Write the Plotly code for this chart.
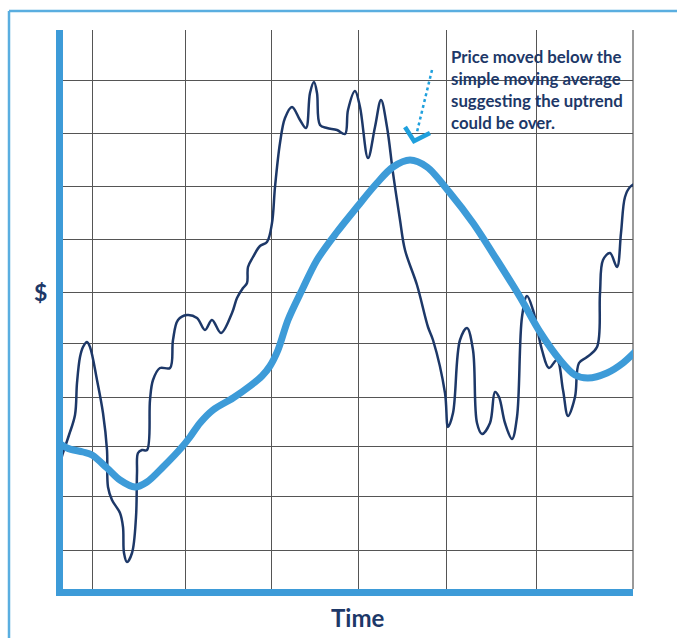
import plotly.graph_objects as go

# Price path (time index, price level) on the chart's own scale
time_price = [-7, 0, 6, 12, 14, 17, 20, 24, 27, 34, 40, 44, 45, 49, 57, 60, 61, 64, 69, 73, 74, 75,
              79, 84, 87, 90, 97, 107, 110, 115, 124, 134, 142, 149, 158, 169, 174, 180, 184, 185,
              190, 197, 204, 209, 212, 217, 222, 229, 237, 243, 247, 251, 254, 257, 264, 274, 282,
              285, 292, 297, 305, 312, 318, 324, 330, 337, 342, 354, 365, 370, 382, 385, 390, 397,
              404, 410, 414, 419, 427, 432, 436, 442, 449, 454, 459, 464, 470, 479, 486, 494, 500,
              505, 512, 516, 524, 534, 537, 540, 547, 554, 558, 562, 567, 576]
price = [112, 136, 154, 174, 206, 232, 242, 247, 242, 209, 176, 139, 102, 89, 76, 62, 36, 27, 36, 72,
         116, 136, 139, 139, 189, 209, 221, 221, 249, 269, 274, 271, 259, 269, 256, 276, 291, 301,
         306, 322, 332, 343, 347, 366, 402, 446, 471, 482, 469, 461, 496, 507, 496, 464, 461, 459,
         455, 479, 498, 482, 431, 462, 489, 462, 416, 369, 339, 304, 262, 249, 196, 162, 176, 249,
         261, 239, 166, 155, 166, 197, 192, 166, 150, 172, 272, 293, 279, 239, 221, 229, 199, 173,
         192, 226, 232, 242, 296, 329, 336, 322, 356, 392, 402, 407]

# Simple moving average of the price
time_sma = [-8, 4, 20, 29, 44, 57, 72, 84, 100, 119, 127, 137, 150, 170, 187, 199, 207, 215, 225,
            239, 254, 274, 294, 314, 330, 347, 364, 387, 410, 434, 457, 477, 497, 512, 525, 544,
            560, 574]
sma = [149, 141, 137, 134, 121, 109, 102, 107, 122, 142, 152, 166, 179, 191, 203, 213, 223, 239,
       269, 299, 329, 357, 382, 406, 422, 429, 422, 396, 366, 329, 292, 257, 229, 214, 211, 216,
       226, 239]

# Grid positions
grid_time = [29, 122, 208, 295, 383, 473]
grid_price = [39, 93, 143, 192, 246, 297, 350, 403, 456, 509]

note_lines = ["Price moved below the", "simple moving average",
              "suggesting the uptrend", "could be over."]

W, H = 677, 638
PLOT_L, PLOT_R, PLOT_T, PLOT_B = 63, 633, 30, 589
X_MAX, Y_MAX = 570, 559

NAVY = "#1d3868"
BLUE = "#3d9bd8"
ARROW = "#1fa0dd"
FRAME = "#5aaee0"
GRID = "#555555"


def paper_x(px):
    return (px - PLOT_L) / (PLOT_R - PLOT_L)


def paper_y(py):
    return (PLOT_B - py) / (PLOT_B - PLOT_T)


fig = go.Figure()

fig.add_trace(go.Scatter(
    x=time_price, y=price, mode="lines",
    line=dict(color=NAVY, width=2.5, shape="spline", smoothing=1.0),
    hoverinfo="skip", showlegend=False,
))
fig.add_trace(go.Scatter(
    x=time_sma, y=sma, mode="lines",
    line=dict(color=BLUE, width=7, shape="spline", smoothing=0.9),
    hoverinfo="skip", showlegend=False,
))

shapes = [
    # right edge of the grid
    dict(type="line", xref="paper", yref="paper", x0=1, x1=1, y0=0, y1=1,
         line=dict(color=GRID, width=1.2), layer="below"),
    # outer frame (top and left)
    dict(type="line", xref="paper", yref="paper",
         x0=paper_x(9), x1=paper_x(W + 5), y0=paper_y(11), y1=paper_y(11),
         line=dict(color=FRAME, width=2.5)),
    dict(type="line", xref="paper", yref="paper",
         x0=paper_x(9), x1=paper_x(9), y0=paper_y(11), y1=paper_y(H + 5),
         line=dict(color=FRAME, width=2.5)),
    # dotted pointer towards the crossover
    dict(type="line", xref="x", yref="y", x0=369, y0=519, x1=354, y1=457,
         line=dict(color=ARROW, width=2.5, dash="dot")),
    # check-mark style arrowhead
    dict(type="path", xref="x", yref="y",
         path="M 342 462 L 351 448 L 367 456",
         line=dict(color=ARROW, width=4.5)),
]

annotations = [
    dict(text="<br>".join(note_lines), xref="paper", yref="paper",
         x=paper_x(449), y=paper_y(44), xanchor="left", yanchor="top",
         align="left", showarrow=False,
         font=dict(family="Lato", size=16.8, color=NAVY, weight="bold")),
    dict(text="$", xref="paper", yref="paper", x=paper_x(40), y=paper_y(292),
         xanchor="center", yanchor="middle", showarrow=False,
         font=dict(family="Lato", size=23, color=NAVY, weight="bold")),
    dict(text="Time", xref="paper", yref="paper", x=paper_x(357), y=paper_y(617),
         xanchor="center", yanchor="middle", showarrow=False,
         font=dict(family="Lato", size=24, color=NAVY, weight="bold")),
]

fig.update_layout(
    width=W, height=H,
    margin=dict(l=PLOT_L, r=W - PLOT_R, t=PLOT_T, b=H - PLOT_B, pad=0),
    paper_bgcolor="white", plot_bgcolor="white",
    shapes=shapes, annotations=annotations,
    xaxis=dict(range=[0, X_MAX], tickmode="array", tickvals=grid_time,
               showticklabels=False, ticks="", showgrid=True, gridcolor=GRID,
               gridwidth=1.2, zeroline=False, showline=True, linecolor=BLUE,
               linewidth=7, fixedrange=True),
    yaxis=dict(range=[0, Y_MAX], tickmode="array", tickvals=grid_price,
               showticklabels=False, ticks="", showgrid=True, gridcolor=GRID,
               gridwidth=1.2, zeroline=False, showline=True, linecolor=BLUE,
               linewidth=7, fixedrange=True),
)

fig.write_html("out.html")
